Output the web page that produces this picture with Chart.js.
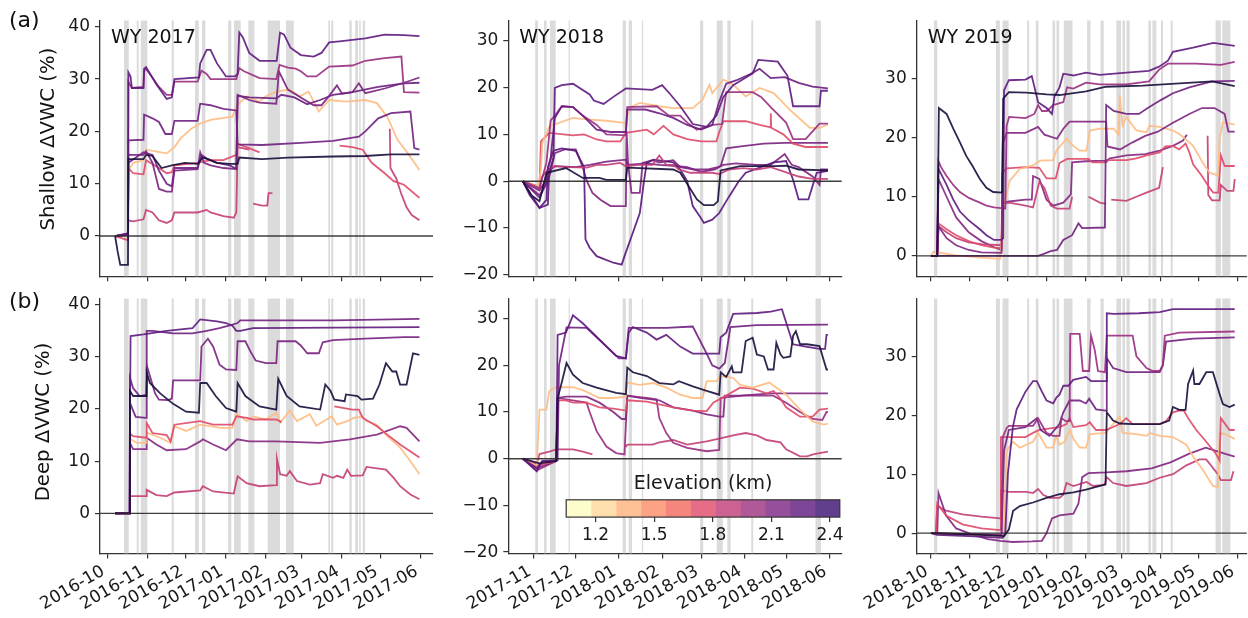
<!DOCTYPE html>
<html lang="en">
<head>
<meta charset="UTF-8">
<title>Shallow and deep ΔVWC, WY 2017–2019</title>
<script src="https://cdn.jsdelivr.net/npm/chart.js"></script>
<style>
  body { margin: 0; background: #fff; }
  #page { position: relative; width: 1248px; height: 618px; overflow: hidden; }
  canvas { position: absolute; }
</style>
</head>
<body>
<div id="page">
  <canvas id="a1"></canvas><canvas id="a2"></canvas><canvas id="a3"></canvas>
  <canvas id="b1"></canvas><canvas id="b2"></canvas><canvas id="b3"></canvas>
  <canvas id="cbar"></canvas>
</div>
<script>
// x values are days since the first month tick of each water year
const ticks17 = [0, 31, 61, 92, 123, 151, 182, 212, 243];
const labels17 = ['2016-10', '2016-11', '2016-12', '2017-01', '2017-02', '2017-03', '2017-04', '2017-05', '2017-06'];
const ticks18 = [0, 30, 61, 92, 120, 151, 181, 212];
const labels18 = ['2017-11', '2017-12', '2018-01', '2018-02', '2018-03', '2018-04', '2018-05', '2018-06'];
const ticks19 = [0, 31, 61, 92, 123, 151, 182, 212, 243];
const labels19 = ['2018-10', '2018-11', '2018-12', '2019-01', '2019-02', '2019-03', '2019-04', '2019-05', '2019-06'];

const yTicks17 = [0, 10, 20, 30, 40];
const yTicks18 = [-20, -10, 0, 10, 20, 30];
const yTicks19 = [0, 10, 20, 30];

// storm periods [start, end] in days
const storms17 = [[12.9,16.6],[22.8,24.3],[25.9,31],[49.9,51.5],[68,70.9],[73.4,76],[93.6,96.1],[98.2,103.4],[109.3,114],[124.3,133.9],[138.5,144.5],[171.3,172.6],[173.6,175.2],[187.6,189.5],[192.2,194.3],[195.3,196.4],[198,199.8]];
const storms18 = [[0.9,2.9],[7.2,9.1],[11.5,15.6],[24.9,25.8],[63.7,66],[68,70.4],[77.5,78.4],[119.2,121.5],[131.2,135.5],[138.8,141.2],[156,157.4],[202.1,206]];
const storms19 = [[2.4,5],[51.5,54.7],[56.8,61.6],[76.3,77.9],[83.2,85.3],[96.4,98.5],[99.6,101.7],[105.4,112.3],[123.9,126.6],[134.5,137.1],[147.1,150.8],[151.9,154],[155.1,157.7],[172.5,174.6],[175.7,178.8],[182.5,184.1],[190.2,191.8],[225.8,230],[231.1,237.5]];

// site elevations (km) for each plotted series
const elevShallow17 = [2.53, 2.25, 2.02, 2.15, 2.2, 2.18, 1.34, 1.75, 1.86];
const shallow17 = [
  [[6,0],[8,-3],[10,-5.5],[16,-5.5],[16.3,14.7],[28,14.7],[30,15.5],[35,15.3],[42,13],[50,13.5],[60,14],[70,13.8],[74,15],[77,14.8],[85,14],[95,13.8],[101,13.8],[102.3,15],[120,14.7],[140,15],[175,15.2],[200,15.3],[220,15.6],[242,15.6]],
  [[6,0],[16,0.5],[16.3,31.3],[18,30.5],[19,28.3],[28,28.3],[28.5,32],[30,32.3],[38,29],[46,26.2],[50,26.5],[52,30],[71,30.3],[72,33],[77,35.6],[80,35.6],[85,33],[92,30.5],[99,30.5],[101,31],[102.3,38.9],[105,38],[110,35],[118,33.5],[131.3,33.5],[133.9,38.9],[137,38.5],[142,36],[150,34.6],[160,34.3],[166,35],[172,37],[180,37.2],[200,37.8],[215,38.5],[230,38.4],[242,38.2]],
  [[6,0],[16,0.3],[16.3,29.5],[19,28.3],[28,28.5],[28.5,31.5],[30,32],[40,28.5],[46,27],[50,27],[52,29.5],[70,29.5],[73,31.6],[77,31],[80,30],[100,30],[102.3,32.1],[106,31.5],[118,30.2],[131,30],[133.5,32.7],[140,32.2],[146,32],[150,31.5],[155,30.5],[162,30.5],[172,32.4],[190,32.6],[200,33.5],[215,34],[228,34.3],[230,27.5],[242,27.4]],
  [[6,0],[16,0.3],[16.3,15.5],[28,15.5],[30,16.2],[35,14],[40,9],[46,8.5],[50,8.5],[52,12.5],[70,12.8],[72,16],[75,14],[80,13.5],[90,13],[100,12.8],[101,27],[110,26],[118,25.5],[131,25.3],[133,31.5],[140,28],[150,26.5],[160,25],[166,25],[172,26.8],[178,28.8],[182,27.2],[190,27.5],[195,29.2],[200,27.3],[215,28.2],[230,29.3],[242,30.3]],
  [[6,0],[16,0.5],[16.3,14],[25,15.5],[28,16],[35,15.5],[40,12.5],[46,10],[50,9.5],[52,13],[70,13],[73,15.5],[77,14.8],[85,14],[95,13.5],[100,12.8],[101,26.8],[110,26.5],[131,26.3],[135,27],[145,26.5],[155,25.2],[165,26],[175,27],[190,27.5],[210,28.5],[230,29.2],[242,29.3]],
  [[6,0],[16,0.3],[16.3,18.3],[28,18.4],[28.5,23.2],[35,22.5],[40,21.8],[45,19.5],[50,19.5],[52,22],[70,22],[72,25.3],[80,25],[90,24.3],[100,24],[101,17.5],[120,17.4],[150,17.8],[175,18.2],[195,19],[200,20],[210,22.5],[220,23.5],[235,23.8],[238,16.8],[242,16.5]],
  [[6,0],[16,0.2],[16.3,12.5],[20,14],[28,14.5],[30,16.5],[46,15.8],[52,17],[57,18.7],[65,20.5],[72,21.5],[80,22.2],[97,22.8],[100,24.9],[108,26.7],[118,25.7],[123,26.7],[131,27.6],[141,28],[149,26.7],[156,27.6],[164,23.8],[172,26],[185,25.7],[200,26],[209,25.4],[217,22.8],[225,18.4],[233,15.8],[242,12.6]],
  [[6,0],[16,-0.8],[16.3,13],[20,12],[28,11.8],[30,14.5],[40,13],[46,12],[50,12.2],[52,13.5],[70,14],[80,14.5],[90,14.5],[100,15.5],[101,17.6],[110,16.8],[118,16],[119,null],[180,17.3],[190,17],[198,16.5],[205,14],[215,12],[222,10.5],[230,9.8],[242,7.3]],
  [[6,0],[16,0.2],[16.3,3],[20,2.8],[28,3.2],[30,5],[35,4.5],[40,3],[46,2.5],[50,3],[52,4.5],[70,4.5],[77,5],[80,4.5],[90,3.8],[98,3.5],[100,4.5],[101,17],[110,16.5],[111,null],[113,6.2],[120,5.8],[124,5.8],[125,8.2],[128,8.2],[129,null],[219,20.5],[219.5,13],[224,11],[228,8],[232,5.5],[236,4],[242,3]]
];

const elevShallow18 = [2.53, 2.25, 2.2, 2.02, 1.34, 1.75, 1.86, 2.28, 2.12, 2.15];
const shallow18 = [
  [[-8,0],[-2,-3],[4,-4.3],[9,1.8],[23,2.8],[35,0.7],[47,0.7],[52,0.3],[66,0.3],[67,2.9],[100,2.5],[105,1.8],[117,-3.9],[122,-5.1],[129,-5.1],[132,-4.3],[134,2.3],[148,3.2],[172,3.2],[181,3.3],[190,2.5],[211,2.3]],
  [[-8,0],[-3,-3],[4,-5.7],[10,-5],[11,2],[14,5],[15,19.9],[20,20.5],[28,20.8],[40,18.5],[43,17.2],[50,16.5],[57,18],[66,19.8],[85,19.5],[92,20.5],[98,18.5],[105,16],[114,12.2],[124,11.6],[131,14],[136,18],[143,20.5],[157,23],[161,25.9],[175,25.5],[182,22.5],[186,16],[205,16],[206,19.3],[211,19.3]],
  [[-8,0],[4,-3.5],[8,-1],[10,2.5],[12,5],[15,13.5],[20,16],[28,15.8],[35,14],[45,11],[55,10.5],[66,10.5],[67,15.3],[80,15.3],[90,14.5],[100,13.5],[110,12],[120,11],[128,12],[133,17],[138,20.8],[145,21.5],[155,22.8],[162,24],[170,22],[180,22.2],[190,21],[200,20.2],[211,19.8]],
  [[-8,0],[4,-1.5],[9,4],[12,13],[15,14],[20,16],[28,15.8],[35,14],[45,12],[52,10],[66,9.8],[67,15.8],[88,16],[97,14],[105,14],[110,12.5],[117,11],[128,12],[135,12.2],[138,19],[157,19],[163,18],[171,15.5],[181,12.5],[186,9],[195,9],[205,12.3],[211,12.3]],
  [[-8,0],[3,-1.2],[5,2.5],[6,8.2],[11,11.7],[28,13.5],[38,13.2],[52,12.9],[66,12.4],[67,14],[70,15.9],[76,16.7],[90,16],[100,15.6],[114,15.6],[121,17.4],[126,20.6],[128,18.8],[136,21.7],[143,20.6],[152,18.1],[162,19.9],[172,18.8],[186,14.6],[198,11.4],[205,11.4],[211,12.1]],
  [[-8,0],[4,-1.5],[5,8.5],[11,10.3],[28,9.8],[36,10],[45,8.9],[52,8.5],[62,8.5],[66,10.3],[81,11],[86,10],[93,11.8],[100,10],[110,9],[120,8.5],[131,8.5],[133,10.5],[136,12.8],[152,12.8],[162,12],[169.8,11.5],[170,14.5],[170.3,11.4],[179,10],[186,8],[195,7.3],[211,7.3]],
  [[-8,0],[4,-1.2],[6,1],[10,2.5],[15,3.2],[25,3],[38,2.9],[45,3.5],[52,3.5],[62,3.9],[66,3.2],[75,3.5],[85,3.5],[90,5.5],[95,3.5],[100,3.5],[104,2.5],[112,1.8],[128,1.8],[133,1.5],[140,2.5],[150,2.8],[160,2.5],[170,3],[180,2],[190,1],[200,0.5],[211,0.5]],
  [[-8,0],[4,-5.7],[9,-4],[10,3],[14,6.5],[20,7],[30,6.5],[36,3],[37,-12.4],[40,-14.2],[45,-16],[57,-17.4],[63,-17.8],[65,-16],[71,-11],[76,-6.8],[79,0],[81,3.9],[86,4.6],[100,4],[105,2.5],[110,0],[114,-5.3],[119,-7.5],[122,-8.9],[128,-8.2],[133,-6.8],[140,-3.3],[147,0],[152,1.8],[172,4],[181,4.3],[186,0.3],[190,-3.9],[197,-3.9],[200,-1],[203,1.8],[211,2.2]],
  [[-8,0],[4,-3],[10,0],[12,2],[15,6],[22,6.8],[30,6.8],[35,3],[38,0],[42,-2.5],[48,-4],[55,-5.3],[66,-5.3],[66.5,10.7],[67.5,4],[70,-2.5],[76,-2.5],[78,3.9],[85,4.5],[90,4],[100,4.5],[105,3],[115,2.5],[125,2.5],[132,3],[136,3.5],[145,3.8],[160,3.5],[170,3.5],[180,5.8],[185,3.5],[190,3],[200,1],[205,-0.8],[206,2.5],[211,2.5]],
  [[-8,0],[4,-2],[9,0.5],[12,2.5],[15,3.2],[30,3],[40,3.5],[52,4.2],[66,4.6],[67,3.5],[80,3.8],[90,3.5],[100,3.3],[110,3],[120,2],[130,2.5],[134,3.2],[138,7],[150,7.5],[165,8],[180,8.2],[211,8.2]]
];

const elevShallow19 = [2.53, 2.25, 2.02, 2.18, 2.12, 1.34, 1.75, 1.86, 2.1];
const shallow19 = [
  [[0,0],[5,0],[6.3,25],[12.4,24],[17.7,21.5],[23,19.2],[28,16.9],[33,15.2],[38.8,13],[44,11.5],[49.4,10.8],[56.5,10.7],[57.3,26.6],[61.8,27.7],[75.8,27.6],[91.7,27.3],[102,27.2],[123,27.8],[139,28.6],[168,28.8],[207,29.3],[223,29.5],[241,28.7]],
  [[0,0],[5,0],[6,14.7],[12.4,12],[17.7,9.5],[23,7.5],[30,6],[38.8,4.5],[44,3.5],[50,2.7],[56,2.7],[57.3,3],[58,28],[61.8,29.7],[75,29.8],[80,30.4],[85,26],[91.7,25],[96,24],[98,27],[102,28.5],[105,30.8],[113,30.5],[123,31],[134,30.6],[155,31],[173,31.3],[181,32],[188,33],[192,34.5],[208,35.2],[224,36],[241,35.5]],
  [[0,0],[5,0],[6,16],[8,15],[12.4,13.5],[17.7,12],[23,10.8],[30,9.8],[38.8,9],[44,8.5],[50,8.2],[59,8],[60,22],[62,23.5],[75,23.3],[82,24],[85,25.5],[88,24.5],[92,24.5],[97,25.5],[105,26],[108,28.5],[113,28.3],[123,29.3],[134,29],[155,29],[173,29.5],[181,31.5],[188,32.5],[210,32.5],[230,32.3],[241,32.8]],
  [[0,0],[85,0],[89,0.3],[95,0.8],[100,1],[105,2.7],[112,3.5],[117,5.5],[120,4.7],[138,4.8],[139,25.5],[145,24.5],[155,24],[165,24],[172,25],[182,26.3],[192,27.5],[205,28.5],[223,29.5],[241,29.6]],
  [[0,0],[5,0],[6,5],[12.4,3],[20,1.8],[30,1],[40,0.6],[56,0.5],[57,19],[60,20.8],[75,20.8],[85,21.8],[90,20.5],[100,19.8],[105,21.5],[110,22.7],[139,22.7],[140,18.5],[150,18],[160,19.2],[170,20.3],[180,21],[192,22.5],[205,24],[215,25],[225,25],[233,24],[236,21],[241,21]],
  [[0,0],[2,0.7],[20,0.1],[40,-0.3],[55,-0.5],[56,3],[57.3,8.1],[62.5,12.7],[70.5,14.7],[81,15.3],[86.4,16.1],[96.9,16.2],[99.5,17.8],[107.5,19.8],[113,18.6],[118,17.8],[123.4,17.8],[126,21.2],[134,21.5],[145,21.5],[149,20.5],[149.8,27.2],[152,22],[155,23.5],[163,21.2],[171,20.9],[173.5,22],[181.5,21.8],[192,21.2],[197,20.6],[205,19.2],[208,18.6],[215.5,15.8],[221,14.1],[227.6,13.6],[229,19.8],[231.6,22.6],[241,22.2]],
  [[0,0],[5,0],[6,5.5],[12.4,4.5],[20,3.5],[30,2.5],[40,1.8],[50,1.4],[56,1.3],[56.5,14],[60,14.8],[75,15],[86,14.9],[91.7,13.1],[99,13.1],[102,15.7],[108,16.4],[125,16.4],[128,15.8],[139,15.8],[141,16.2],[155,16.2],[163,16.5],[171,17],[181.5,17.5],[186,18.5],[192,18.6],[197,18],[202,19],[205,17.5],[208,15.5],[215,13.5],[221,11.5],[224,10.7],[228,10.7],[230,17],[233,15.2],[241,15.2]],
  [[0,0],[5,0],[6,5],[12.4,4],[20,3],[30,2.3],[40,2],[56,1.8],[57,8.8],[62,9],[75,8.5],[81,8.2],[86,12.5],[90,11.5],[95,8.5],[100,8],[110,8],[112,10],[113,null],[125,10],[134,9],[139,8.8],[140,null],[143,9.5],[155,9.3],[163,10],[171,10.7],[181,11.5],[184,15],[185,null],[219.5,20.3],[220,10.3],[223,9.4],[229,9.4],[230,12],[235,11],[240,11],[241,13]],
  [[0,0],[5,0],[6,13],[12.4,10],[20,6.5],[30,4],[40,2.5],[50,1.5],[56,1],[57,9],[62,9.2],[75,9.5],[80,9.5],[81,13.5],[86,13],[91.7,9.5],[97,8.5],[105,9],[111,10.4],[112,15.8],[123,16],[139,16.1],[142,16.5],[155,17],[170,17.2],[181.5,17.8],[192,18.6],[200,19.5],[203,20.5]]
];

const elevDeep17 = [2.53, 2.25, 2.18, 2.15, 1.75, 1.34, 2.1, 1.86];
const deep17 = [
  [[6,0],[17,0],[17.5,23.5],[20,22.5],[30,22.5],[30.5,27],[33,25],[41,23],[51,21],[61,19.5],[71,19.3],[72,25],[77,25],[84,22.5],[92,20.2],[100,19.5],[101,25],[107,22.5],[118,20.5],[131,19.9],[132.5,25.8],[139,22.5],[149,20.5],[165,19.9],[169,24.7],[173,23.5],[176,21.8],[184,21.5],[185,22.8],[194,22.5],[197,21.8],[206,22],[211,24.7],[216,28.8],[221,27.2],[224,27.2],[227,24.7],[232,24.7],[237,30.7],[242,30.4]],
  [[6,0],[17,0],[18,34],[28,34.3],[46,35],[66,35.5],[72,37.2],[85,36.8],[92,36.5],[97,36],[100,35],[103,35],[113,35.5],[242,35.7]],
  [[6,0],[17,0],[17.5,21.2],[22,18.5],[30,18.3],[30.5,35],[35,35],[51,34.5],[66,34.5],[77,35],[87,35.5],[97,36.2],[101,36.5],[103,37],[124,37],[175,37],[242,37.3]],
  [[6,0],[17,0],[17.5,26],[20,24],[25,22.5],[30,22.7],[31,28],[34,25.5],[37,23],[40,21.8],[47,21.7],[50,22],[51,25.5],[72,25.5],[73,32],[78,33.5],[82,32],[87,28.5],[92,27.6],[100,27.5],[101,33],[107,33],[111,31],[115,29.3],[123,28.8],[131,28.8],[132,33],[146,33],[150,32.2],[155,30.7],[164,30.7],[167,32.8],[175,33.2],[200,33.5],[230,33.8],[242,33.8]],
  [[6,0],[17,0],[17.5,15.3],[20,14.8],[30,14.5],[30.5,17.3],[35,15.4],[46,15],[49,13.8],[52,17],[72,17.7],[82,17],[97,17],[100,18.6],[108,18.3],[113,18],[131,18],[135,17.5],[136,null],[176,20.5],[190,19.9],[195,19.9],[198,18.3],[209,16.7],[217,15.1],[227,13.2],[242,10.7]],
  [[6,0],[17,0],[17.5,14.3],[23,13.5],[30,13.5],[30.5,15.5],[41,14.5],[49,13.5],[52,16.7],[61,15.8],[72,17],[88,16.4],[97,16.4],[100.5,19],[108,17.7],[113,18.6],[123,18],[131,19.3],[134,17.4],[141.5,19.7],[147,17.7],[157,19],[162,16.8],[174,18.6],[178,17],[186,17.7],[191,18.3],[198,18.6],[201,17.7],[209,17],[217,14.8],[227,12.6],[235,10],[242,7.5]],
  [[6,0],[17,0],[17.5,13.5],[20,12.3],[30,12.3],[30.5,14.5],[38,13.2],[46,12.1],[61,12.3],[72,13.8],[74,14.2],[82,13.2],[92,12.1],[100.5,14.2],[110,13.8],[131,13.8],[165,13.5],[188,14.2],[209,15.1],[227,16.7],[232,16.4],[242,13.8]],
  [[6,0],[17,0],[17.5,3.3],[30,3.3],[30.5,4.5],[38,3.5],[46,3.3],[52,4],[72,4.4],[74,5.2],[82,4.2],[98,3.8],[101,7.1],[108,5.8],[118,5.2],[131,5.4],[131.5,10.5],[134,7.5],[139,7.2],[141.5,8.1],[147,6.2],[157,5.5],[165,5.8],[167,7.5],[175,6.8],[178,7.2],[183,6.8],[186,8.4],[189,7.2],[198,7.3],[201,8.9],[216,8.4],[222,6.8],[227,5.2],[235,3.6],[242,2.7]]
];

const elevDeep18 = [2.53, 2.25, 2.18, 1.34, 1.75, 2.12, 2.02, 1.86];
const deep18 = [
  [[-8,0],[4,-1],[16,-0.5],[17,13],[19,15.2],[23.4,20.5],[28,18],[35,16.2],[45,15.2],[59,14.1],[66,13.8],[67,19.5],[71,18.5],[81,17.7],[90,16.2],[100,15.9],[104,16.6],[114,15.5],[124,14.5],[133,13.7],[134,18.5],[138,17.5],[142,19.8],[143,18.5],[149,18.5],[152,25.2],[157,25.9],[160,22.3],[165,21.9],[168,19.1],[172,19.1],[174,24.8],[177,22.3],[179,21.6],[184,21.9],[186,26.3],[188,27.3],[191,24.5],[196,24.5],[205,24.1],[210,19.1],[211,19.1]],
  [[-8,0],[2,-2.7],[6,-0.5],[16,-0.5],[17,26.5],[23,27],[28,30.7],[35,29],[42,27],[52,24],[59,22],[66,21.5],[68,27],[71,28.2],[81,27],[88,25.5],[95,26.5],[105,24],[114,22.5],[133,22.5],[134,26],[138,27],[143,31],[160,31.2],[170,31.5],[178,32],[186,24.5],[195,24],[205,23.5],[209,23.5],[210,26.5],[211,26.5]],
  [[-8,0],[2,-2],[6,-0.5],[17,-0.3],[18,20],[20,23],[23.4,28.1],[37.8,28],[45,26],[54,23.5],[61,21.5],[66,21.5],[68,28],[95,28],[114,28.3],[124,22.5],[128,20],[133,19.3],[137,20.5],[141,28.2],[160,28.6],[211,28.7]],
  [[-8,0],[2,-1.5],[4,10.5],[9,10.5],[11,14.5],[16,15.3],[28,15.3],[35,14.7],[47,13],[57,13],[66,13.3],[67,16.3],[76,15.8],[85.6,16.2],[95,15.2],[105,13.7],[114,13],[121,13],[124,16.6],[131,16.6],[133.5,17.7],[143,17.3],[148,15.8],[157,15.2],[169,16.3],[181,13.7],[191,10.5],[200,8],[208,7.3],[211,7.5]],
  [[-8,0],[2,-1.5],[16,-0.5],[17,12.5],[23,12.5],[28,12],[37.8,12],[47,11],[57,10.7],[66,10.3],[67,12.5],[81,12.2],[100,11],[114,10.3],[124,10.2],[128.7,12],[138,13.5],[147.8,15.2],[157,15],[167,14],[172,14.5],[176.6,13],[181,11],[191,9],[200,9],[205,10.5],[211,10.7]],
  [[-8,0],[2,-2],[16,-0.5],[17,13],[23,13.3],[37.8,13.3],[47,12],[57,10],[63,8.5],[66,8.5],[67,13.5],[76,13],[90,12.5],[100,11],[114,10.3],[124,9.5],[133,9],[136,9],[137,13.5],[148,13.5],[171,14],[211,14]],
  [[-8,0],[2,-2.5],[16,-0.5],[17,13],[37.8,12],[40,10],[45,5.9],[52,2.6],[59,1.2],[65,0.9],[67,13.5],[81,13],[88,12.7],[90,8.7],[95,5.5],[100,3.4],[110,2.3],[124,1.6],[133,1.9],[134,13],[150,13.5],[171.8,13.5],[181,12],[191,10],[200,8.5],[207,8.3],[210,10],[211,10]],
  [[-8,0],[2,-1.2],[4,1],[11,1.5],[16,2],[28,2],[35,1.5],[42,0.9],[43,null],[66,2.5],[67,3],[85,3],[90,3.5],[100,4],[110,3],[124,3.7],[133,4.3],[143,5],[152,5.5],[160,5],[167,4],[177,3.5],[181,2],[191,0.5],[196,0.5],[201,1],[211,1.5]]
];

const elevDeep19 = [2.53, 2.25, 2.02, 2.18, 1.75, 1.34, 2.12, 1.86];
const deep19 = [
  [[0,0],[40,-0.3],[58,-0.5],[61.8,0.6],[65.2,3.8],[70.5,4.6],[81,5.2],[91.7,6],[102,6.6],[113,6.9],[123,7.4],[134,8],[138.5,8.3],[139.5,20.5],[144.5,19.1],[150,18.6],[160,18.5],[181.5,18.5],[189,19.1],[192,21.4],[197,20.9],[202,20.9],[203,23.1],[204,25.3],[208,27.6],[209,25.3],[213,25.3],[218.4,27.3],[223.7,27.3],[229,23.6],[231.6,21.9],[236.9,21.4],[241,21.8]],
  [[0,0],[5,-0.3],[30,-0.5],[57,-0.8],[59,0],[61,10],[65,18],[68,21],[75,24],[81,25.8],[84,25.8],[88,24],[91.7,22.5],[97,22],[99.5,23],[102,23.5],[105,25],[109,25],[112.8,26],[123,26.5],[127,25.8],[139,25.8],[139.5,37.3],[145,37.2],[165,37.3],[181.5,37.5],[192,38],[241,38]],
  [[0,0],[56,-0.3],[57,16.3],[60,17.8],[61.8,18.2],[81,18.2],[85,19.5],[91.7,17],[97,16.5],[102,16.5],[103.5,19.5],[107,19],[110,19],[110.5,33.8],[118,33.8],[120.5,27.5],[125.5,27.5],[127,33.5],[130,31],[132.5,27.5],[138,27.3],[139.5,33.5],[160,33.5],[163,30],[171,28],[176,27.5],[181.5,27.5],[184,28.5],[185.5,33.5],[197,34],[241,34.2]],
  [[0,0],[56,-0.3],[58,14],[61.8,17.5],[75,18],[84,19.5],[87,17.5],[94,16.5],[102,18.5],[105,20.5],[110,22.5],[118,22.5],[123,22],[125.5,22.8],[131,21],[139,20.8],[139.5,29.7],[144.5,28],[155,27.3],[181.5,27.3],[184,28.5],[186.5,32.5],[208,33],[241,33.2]],
  [[0,0],[4,0],[5,5],[12,3],[25,1.5],[40,0.8],[55,0.5],[55.5,16.3],[75,16.3],[81,17],[86,17.5],[102,18],[107.5,18.5],[110,19.5],[113,18],[123,18.3],[126,18.8],[131,17.5],[139,17.5],[144.5,18],[149.8,18.5],[155,19.5],[160,18.5],[181.5,18.5],[186.5,19],[192,20.5],[197,20.8],[200.6,20.8],[204.6,19.3],[210.5,17.5],[218.4,15.5],[226,13.5],[229,12.3],[230,19.5],[236.9,17.5],[241,17.5]],
  [[0,0],[30,-0.3],[58,-0.5],[60,14],[65.2,15.5],[70.5,14.5],[75.8,15],[81,15.5],[85,17],[89,15.5],[91.7,14.5],[96.9,14.5],[99.5,16.5],[102,15],[106,15.5],[110,17.5],[113,16],[118,14.5],[123,14.5],[126,16.8],[138.5,17],[149.8,19.8],[152,17],[163,16.8],[171,16.5],[173.5,17],[181.5,16.5],[192,16.3],[202.6,15],[207.9,13],[215.8,10.7],[223.7,8],[227.6,7.8],[229,17],[234.3,16.7],[241,16]],
  [[0,0],[5,0],[6,6.8],[12,3],[20,0.8],[30,0],[45,-1],[55,-1.3],[65,-1.5],[80,-1.4],[88,-1.3],[91.7,0],[96,2.5],[102,3],[113,3.3],[117,5],[120,9.5],[125,10.2],[139,10.3],[155,10.5],[175,11],[190,12],[205,13.5],[218,14.5],[233,13.5],[241,13]],
  [[0,0],[4,0],[5,4.6],[12,3.8],[25,3.2],[40,2.8],[55,2.5],[55.5,7.3],[61.8,7],[75.8,7],[81,6.8],[85,7.5],[89,6.5],[94,6],[102,6],[105,6.5],[107.5,8.5],[113,8],[123.4,8.7],[128.6,8],[138,8.2],[139.5,9.5],[144.5,8.5],[155,8],[171,8.5],[181.5,9.4],[192,10],[202.6,11.5],[207.9,12],[213,12.5],[218.4,12.5],[227.6,10],[230,9],[238,9],[240,10.5]]
];

// colorbar class bounds and ticks (km)
const cbBounds = [1.05, 1.177, 1.305, 1.432, 1.559, 1.686, 1.814, 1.941, 2.068, 2.195, 2.323, 2.45];
const cbTicks = [1.2, 1.5, 1.8, 2.1, 2.4];

// magma colormap, sampled every 0.1
const MAGMA = [[0,0,4],[20,14,54],[59,15,112],[100,26,128],[140,41,129],[183,55,121],[222,73,104],[247,112,92],[254,159,109],[254,207,146],[252,253,191]];
function magma(t) {
  t = Math.min(1, Math.max(0, t));
  const p = t * 10, i = Math.min(9, Math.floor(p)), f = p - i;
  return MAGMA[i].map((c, k) => Math.round(c + (MAGMA[i + 1][k] - c) * f));
}
function elevT(e) { return 1.04 - (e - 1.05) * 0.628; }
function lineColor(e) {
  const [r, g, b] = magma(elevT(e));
  return `rgba(${r},${g},${b},0.9)`;
}
function cbColor(e) {
  // alpha 0.8 over white, pre-blended so the bands behind don't show
  const c = magma(elevT(e)).map(v => Math.round(v * 0.8 + 255 * 0.2));
  return `rgb(${c[0]},${c[1]},${c[2]})`;
}
const minus = v => (v < 0 ? '\u2212' + Math.abs(v) : String(v));

Chart.defaults.font.family = '"DejaVu Sans", sans-serif';
Chart.defaults.color = '#1a1a1a';

const stormPlugin = {
  id: 'storms',
  beforeDatasetsDraw(chart, args, opts) {
    const { ctx, chartArea: a, scales: { x } } = chart;
    ctx.save();
    ctx.fillStyle = 'rgba(200,200,200,0.65)';
    opts.spans.forEach(([s, e]) => {
      const x0 = x.getPixelForValue(s), x1 = x.getPixelForValue(e);
      ctx.fillRect(x0, a.top, x1 - x0, a.bottom - a.top);
    });
    ctx.restore();
  }
};

const zeroPlugin = {
  id: 'zeroLine',
  afterDatasetsDraw(chart) {
    const { ctx, chartArea: a, scales: { y } } = chart;
    const y0 = y.getPixelForValue(0);
    ctx.save();
    ctx.strokeStyle = 'rgba(40,40,40,0.9)';
    ctx.lineWidth = 1.4;
    ctx.beginPath();
    ctx.moveTo(a.left, y0);
    ctx.lineTo(a.right, y0);
    ctx.stroke();
    ctx.restore();
  }
};

// water-year caption, panel letter, rotated y-axis title and 30° date labels
const textPlugin = {
  id: 'panelText',
  afterDraw(chart, args, opts) {
    const { ctx, chartArea: a, scales: { x } } = chart;
    ctx.save();
    ctx.fillStyle = '#111';
    ctx.textBaseline = 'alphabetic';
    if (opts.wy) {
      ctx.font = '19px "DejaVu Sans"';
      ctx.fillText(opts.wy, a.left + 11, a.top + 22.5);
    }
    if (opts.tag) {
      ctx.font = '22px "DejaVu Sans"';
      ctx.fillText(opts.tag, 9, opts.tagY);
    }
    if (opts.dates) {
      // right edge of the rotated box on the tick, top of the box just under it
      const size = 17, asc = 0.76 * size, desc = 0.21 * size, top = a.bottom + 9.3;
      ctx.font = size + 'px "DejaVu Sans"';
      ctx.fillStyle = '#1a1a1a';
      ctx.textAlign = 'right';
      opts.dates.ticks.forEach((v, i) => {
        ctx.save();
        ctx.translate(x.getPixelForValue(v) - desc * 0.5, top + asc * Math.cos(Math.PI / 6));
        ctx.rotate(-Math.PI / 6);
        ctx.fillText(opts.dates.labels[i], 0, 0);
        ctx.restore();
      });
    }
    if (opts.yTitle) {
      ctx.font = '19.7px "DejaVu Sans"';
      ctx.fillStyle = '#111';
      ctx.textAlign = 'center';
      ctx.translate(opts.titleX, opts.titleY);
      ctx.rotate(-Math.PI / 2);
      ctx.fillText(opts.yTitle, 0, 0);
    }
    ctx.restore();
  }
};

const COLS = [
  { left: 0, width: 440, axisW: 100, padR: 7 },
  { left: 440, width: 410, axisW: 68.3, padR: 8.3 },
  { left: 850, width: 398, axisW: 66.7, padR: 1.3 }
];
const ROWS = [
  { top: 0, height: 290, padT: 20.5, axisH: 13.7 },
  { top: 290, height: 328, padT: 8.5, axisH: 64.5 }
];

function panel(id, col, row, p) {
  const c = COLS[col], r = ROWS[row];
  const cv = document.getElementById(id);
  cv.width = c.width; cv.height = r.height;
  cv.style.left = c.left + 'px'; cv.style.top = r.top + 'px';

  const datasets = p.series.map((s, i) => ({
    data: s.map(([x, y]) => ({ x, y })),
    borderColor: lineColor(p.elev[i]),
    borderWidth: 1.8,
    pointRadius: 0,
    tension: 0,
    spanGaps: false,
    fill: false
  }));

  const axisLine = {
    grid: { drawOnChartArea: false, drawTicks: true, tickLength: 5, color: '#333', lineWidth: 1.2 },
    border: { display: true, color: '#333', width: 1.3 }
  };

  new Chart(cv, {
    type: 'line',
    data: { datasets },
    options: {
      responsive: false,
      animation: false,
      events: [],
      devicePixelRatio: 1,
      layout: { padding: { top: r.padT, right: c.padR, left: 0, bottom: 0 } },
      plugins: {
        legend: { display: false },
        tooltip: { enabled: false },
        storms: { spans: p.storms },
        panelText: {
          wy: p.wy, tag: p.tag, tagY: p.tagY,
          yTitle: p.yTitle, titleX: p.titleX, titleY: p.titleY,
          dates: row === 1 ? { ticks: p.xTicks, labels: p.xLabels } : null
        }
      },
      scales: {
        x: {
          type: 'linear',
          min: p.xRange[0], max: p.xRange[1],
          ...axisLine,
          afterBuildTicks: s => { s.ticks = p.xTicks.map(v => ({ value: v })); },
          afterFit: s => { s.height = r.axisH; s.paddingLeft = 0; s.paddingRight = 0; },
          ticks: { display: false }
        },
        y: {
          min: p.yRange[0], max: p.yRange[1],
          ...axisLine,
          afterBuildTicks: s => { s.ticks = p.yTicks.map(v => ({ value: v })); },
          afterFit: s => { s.width = c.axisW; s.paddingTop = 0; s.paddingBottom = 0; },
          ticks: { font: { size: 17 }, padding: 5, callback: v => minus(v) }
        }
      }
    },
    plugins: [stormPlugin, zeroPlugin, textPlugin]
  });
}

const x17 = [-5.7, 252.5], x18 = [-18.4, 220.9], x19 = [-11.3, 250.5];
const y17 = [-7.7, 41.2], y18 = [-20.3, 34.3], y19 = [-3.45, 39.8];

panel('a1', 0, 0, { series: shallow17, elev: elevShallow17, storms: storms17, xRange: x17, xTicks: ticks17, xLabels: labels17, yRange: y17, yTicks: yTicks17, wy: 'WY 2017', tag: '(a)', tagY: 27, yTitle: 'Shallow ΔVWC (%)', titleX: 54, titleY: 139 });
panel('a2', 1, 0, { series: shallow18, elev: elevShallow18, storms: storms18, xRange: x18, xTicks: ticks18, xLabels: labels18, yRange: y18, yTicks: yTicks18, wy: 'WY 2018' });
panel('a3', 2, 0, { series: shallow19, elev: elevShallow19, storms: storms19, xRange: x19, xTicks: ticks19, xLabels: labels19, yRange: y19, yTicks: yTicks19, wy: 'WY 2019' });
panel('b1', 0, 1, { series: deep17, elev: elevDeep17, storms: storms17, xRange: x17, xTicks: ticks17, xLabels: labels17, yRange: y17, yTicks: yTicks17, tag: '(b)', tagY: 18, yTitle: 'Deep ΔVWC (%)', titleX: 49, titleY: 132 });
panel('b2', 1, 1, { series: deep18, elev: elevDeep18, storms: storms18, xRange: x18, xTicks: ticks18, xLabels: labels18, yRange: y18, yTicks: yTicks18 });
panel('b3', 2, 1, { series: deep19, elev: elevDeep19, storms: storms19, xRange: x19, xTicks: ticks19, xLabels: labels19, yRange: y19, yTicks: yTicks19 });

// elevation colorbar: one floating bar per class
const outlinePlugin = {
  id: 'outline',
  afterDatasetsDraw(chart) {
    const { ctx, chartArea: a } = chart;
    ctx.save();
    ctx.strokeStyle = '#333';
    ctx.lineWidth = 1.2;
    ctx.strokeRect(a.left, a.top, a.right - a.left, a.bottom - a.top);
    ctx.restore();
  }
};
const cb = document.getElementById('cbar');
cb.width = 280; cb.height = 77;
cb.style.left = '562.5px'; cb.style.top = '471px';
new Chart(cb, {
  type: 'bar',
  data: {
    labels: [''],
    datasets: cbBounds.slice(0, -1).map((lo, i) => ({
      data: [[lo, cbBounds[i + 1]]],
      backgroundColor: cbColor((lo + cbBounds[i + 1]) / 2),
      borderWidth: 0,
      barPercentage: 1,
      categoryPercentage: 1,
      grouped: false
    }))
  },
  options: {
    indexAxis: 'y',
    responsive: false,
    animation: false,
    events: [],
    devicePixelRatio: 1,
    layout: { padding: { left: 3.2, right: 3.2 } },
    plugins: {
      legend: { display: false },
      tooltip: { enabled: false },
      title: { display: true, text: 'Elevation (km)', font: { size: 19, weight: 'normal' }, color: '#1a1a1a', padding: { top: 2, bottom: 4 } }
    },
    scales: {
      x: {
        type: 'linear', min: cbBounds[0], max: cbBounds[cbBounds.length - 1],
        afterBuildTicks: s => { s.ticks = cbTicks.map(v => ({ value: v })); },
        afterFit: s => { s.height = 30.9; s.paddingLeft = 0; s.paddingRight = 0; },
        grid: { drawOnChartArea: false, tickLength: 5, color: '#333', lineWidth: 1.2 },
        border: { display: false },
        ticks: { font: { size: 17 }, padding: 3, callback: v => v.toFixed(1) }
      },
      y: { display: false }
    }
  },
  plugins: [outlinePlugin]
});
</script>
</body>
</html>
